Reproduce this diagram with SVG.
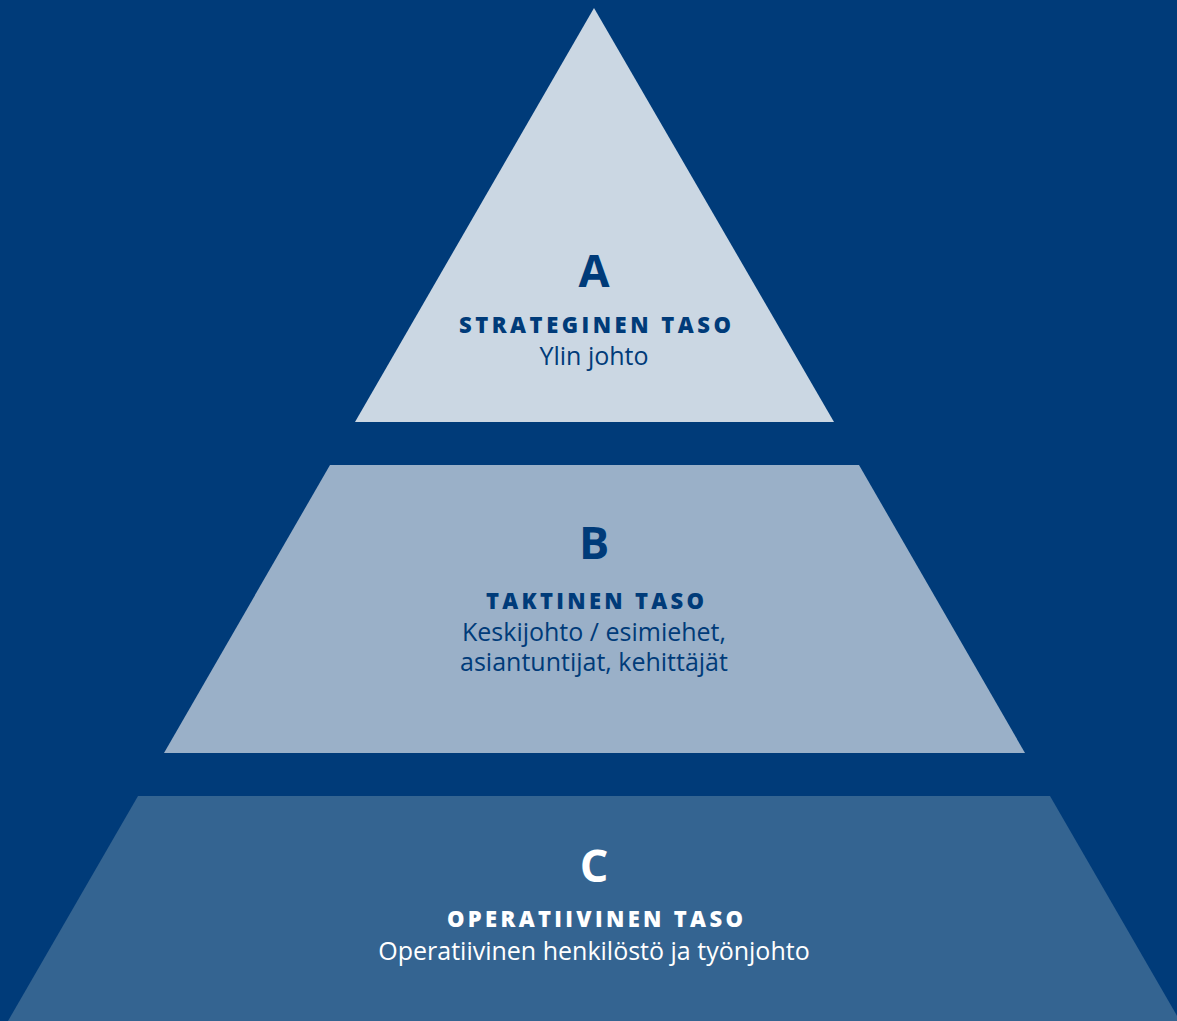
<svg xmlns="http://www.w3.org/2000/svg" width="1177" height="1021" viewBox="0 0 1177 1021">
  <style>
    .letter { font-family: "Open Sans", "Noto Sans", sans-serif; font-weight: 700; font-size: 45px; text-anchor: middle; }
    .title { font-family: "Open Sans", "Noto Sans", sans-serif; font-weight: 800; font-size: 22px; text-anchor: middle; }
    .sub { font-family: "Open Sans", "Noto Sans", sans-serif; font-weight: 400; font-size: 25px; text-anchor: middle; }
    .dark { fill: #003B79; }
    .light { fill: #FFFFFF; }
  </style>
  <rect x="0" y="0" width="1177" height="1021" fill="#003B79"/>

  <!-- Top level: strategic -->
  <g id="level-a">
    <polygon points="594,8 834,422 355,422" fill="#CBD7E3"/>
    <text class="letter dark" x="594" y="287">A</text>
    <text class="title dark" x="595" y="333" textLength="272" lengthAdjust="spacing">STRATEGINEN TASO</text>
    <text class="sub dark" x="594" y="365">Ylin johto</text>
  </g>

  <!-- Middle level: tactical -->
  <g id="level-b">
    <polygon points="330,465 859,465 1025,753 164,753" fill="#9AB0C8"/>
    <text class="letter dark" x="594" y="559">B</text>
    <text class="title dark" x="595" y="609" textLength="218" lengthAdjust="spacing">TAKTINEN TASO</text>
    <text class="sub dark"><tspan x="594" y="641">Keskijohto / esimiehet,</tspan><tspan x="594" y="671">asiantuntijat, kehittäjät</tspan></text>
  </g>

  <!-- Bottom level: operative -->
  <g id="level-c">
    <polygon points="138,796 1050,796 1180,1021 8,1021" fill="#346491"/>
    <text class="letter light" x="594" y="882">C</text>
    <text class="title light" x="595" y="927" textLength="296" lengthAdjust="spacing">OPERATIIVINEN TASO</text>
    <text class="sub light" x="594" y="960">Operatiivinen henkilöstö ja työnjohto</text>
  </g>
</svg>
